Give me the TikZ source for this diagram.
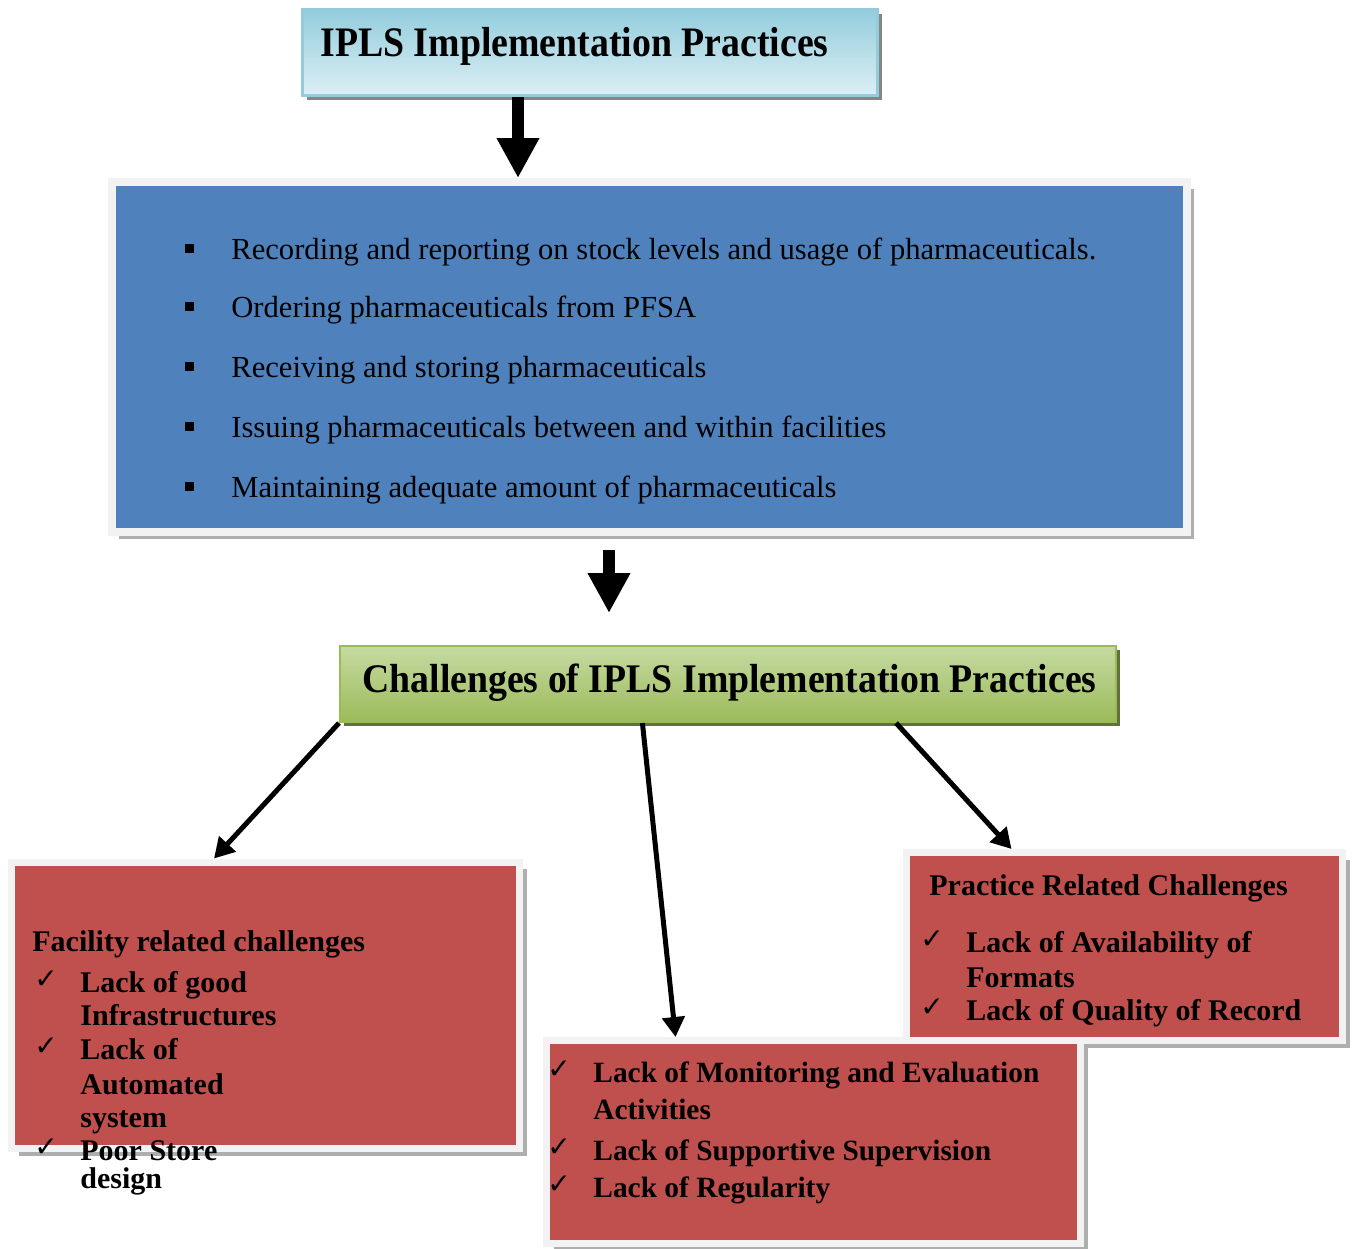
\documentclass[tikz,border=0pt]{standalone}
\usepackage{fontspec}
\setmainfont{Liberation Serif}
\newfontfamily\narrowserif{Liberation Serif}[FakeStretch=0.93]
\newfontfamily\titleserif{Liberation Serif}[FakeStretch=0.90]
\newfontfamily\checkfont{DejaVu Sans}
\usetikzlibrary{arrows.meta,calc,shadows}
\definecolor{ipblue}{HTML}{4F81BD}
\definecolor{ipred}{HTML}{C0504D}
\definecolor{ipframe}{HTML}{F2F2F2}
\definecolor{ipgreen}{HTML}{9BBB59}
\definecolor{ipgreenlight}{HTML}{C6DAA2}
\definecolor{ipolive}{HTML}{4F6228}
\definecolor{ipcyan}{HTML}{93CDDD}
\definecolor{ipcyanlight}{HTML}{DDEFF4}
\begin{document}
\begin{tikzpicture}[x=0.5pt,y=-0.5pt,
    boxframe/.style={inner sep=0pt,draw=ipframe,line width=3.5pt,
      drop shadow={shadow xshift=3.5pt,shadow yshift=-3.5pt,fill=black!45,opacity=0.7}},
    redbox/.style={boxframe,fill=ipred},
    txt/.style={inner sep=0pt,anchor=base west},
    redtxt/.style={txt,font=\fontsize{15}{18}\selectfont\bfseries},
    chk/.style={txt,font=\checkfont\fontsize{14}{16}\selectfont},
    bigarrow/.style={line width=6pt,-{Triangle[width=20pt,length=20pt]}},
    thinarrow/.style={line width=2.5pt,-{Triangle[width=11pt,length=10pt]}}]
  \useasboundingbox (0,0) rectangle (1353,1248);
%
  \node[inner sep=0pt,draw=ipcyan,line width=1.5pt,top color=ipcyan,bottom color=ipcyanlight,
    minimum width=287.5pt,minimum height=43pt,
    drop shadow={shadow xshift=2pt,shadow yshift=-2pt,fill=black!60,opacity=0.8}] (top) at (590,52.5) {};
  \node[txt,font=\titleserif\fontsize{21}{25}\selectfont\bfseries] (toptitle) at (320,56) {IPLS Implementation Practices};
%
  \node[boxframe,fill=ipblue,line width=4pt,minimum width=537.5pt,minimum height=175pt] (steps) at (649.5,357) {};
  \foreach \y/\entry [count=\i] in {259/Recording  and reporting  on stock levels  and usage of pharmaceuticals.,317/Ordering pharmaceuticals  from PFSA,377/Receiving  and storing pharmaceuticals,437/Issuing pharmaceuticals  between and within  facilities,497/Maintaining  adequate amount  of pharmaceuticals}
  {
    \fill (185,\y-15) rectangle ++(9,9);
    \node[txt,font=\fontsize{15.3}{18}\selectfont] (step\i) at (231,\y) {\entry};
  }
%
  \node[inner sep=0pt,draw=ipgreen,line width=1pt,top color=ipgreenlight,bottom color=ipgreen,
    minimum width=388pt,minimum height=38pt,
    drop shadow={shadow xshift=2pt,shadow yshift=-2pt,fill=ipolive,opacity=0.9}] (chal) at (728,684) {};
  \node[txt,font=\narrowserif\fontsize{20.3}{24}\selectfont\bfseries] (chaltitle) at (362,692) {Challenges of IPLS Implementation Practices};
%
  \node[redbox,minimum width=254pt,minimum height=143.25pt] (fac) at (265.5,1005.25) {};
  \node[redtxt] (factitle) at (32,951) {Facility related challenges};
  \foreach \y/\entry [count=\i] in {992/Lack of good,1025/Infrastructures,1059/Lack of,1094/Automated,1127/system,1160/Poor Store,1188/design}
    \node[redtxt] (fac\i) at (80,\y) {\entry};
  \foreach \y [count=\i] in {992,1059,1160}
    \node[chk] (facchk\i) at (34,\y-4) {✓};
%
  \node[redbox,minimum width=218pt,minimum height=94pt] (prac) at (1124.5,946.5) {};
  \node[redtxt] (practitle) at (929,895) {Practice Related Challenges};
  \foreach \y/\entry [count=\i] in {952/Lack of Availability of,987/Formats,1020/Lack of Quality of Record}
    \node[redtxt] (prac\i) at (966,\y) {\entry};
  \foreach \y [count=\i] in {952,1020}
    \node[chk] (pracchk\i) at (920,\y-4) {✓};
%
  \node[redbox,minimum width=267pt,minimum height=101.5pt] (mon) at (813.5,1142) {};
  \foreach \y/\entry [count=\i] in {1082/Lack of Monitoring and Evaluation,1119/Activities,1160/Lack of Supportive Supervision,1197/Lack of Regularity}
    \node[redtxt,font=\fontsize{14.7}{18}\selectfont\bfseries] (mon\i) at (593,\y) {\entry};
  \foreach \y [count=\i] in {1082,1160,1197}
    \node[chk] (monchk\i) at (547,\y-4) {✓};
%
  \draw[bigarrow] (518,0 |- top.south) -- (518,0 |- steps.north);
  \draw[bigarrow,shorten <=7pt,shorten >=16pt] (609,0 |- steps.south) -- (609,0 |- chal.north);
%
  \draw[thinarrow] (chal.south west) -- ($(fac.north west)!0.4!(fac.north east)$);
  \draw[thinarrow] ($(chal.south west)!0.39!(chal.south east)$) -- ($(mon.north west)!0.245!(mon.north east)$);
  \draw[thinarrow] ($(chal.south west)!0.716!(chal.south east)$) -- ($(prac.north west)!0.245!(prac.north east)$);
%
\end{tikzpicture}
\end{document}
